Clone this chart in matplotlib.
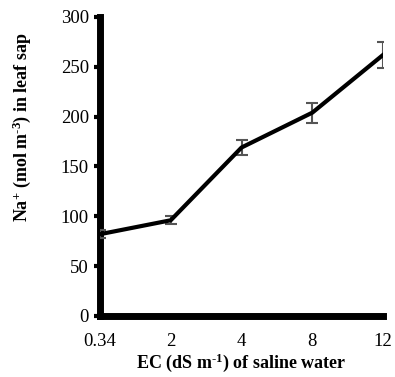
import numpy as np
import matplotlib.pyplot as plt

plt.rcParams['font.family'] = ['Liberation Serif', 'DejaVu Serif']
plt.rcParams['mathtext.fontset'] = 'custom'
plt.rcParams['mathtext.rm'] = 'Liberation Serif:bold'
plt.rcParams['mathtext.bf'] = 'Liberation Serif:bold'
plt.rcParams['mathtext.default'] = 'rm'

categories = ["0.34", "2", "4", "8", "12"]
na_sap = [82, 96, 169, 204, 262]
na_err = [4, 4, 8, 10, 13]

x = np.arange(len(categories))

fig = plt.figure(figsize=(3.95, 3.77), dpi=100)
ax = fig.add_axes([0.253, 0.162, 0.717, 0.793])
ax.errorbar(x, na_sap, yerr=na_err, fmt="none", ecolor="#555555",
            elinewidth=1.5, capsize=4, capthick=1.5, zorder=3)
ax.plot(x, na_sap, color="black", lw=3, zorder=4)

ax.set_xlim(0, 4)
ax.set_ylim(0, 300)
ax.set_yticks(range(0, 301, 50))
ax.set_xticks(x)
ax.set_xticklabels(categories)
ax.tick_params(axis="y", length=4, width=3, labelsize=13.5, pad=4)
ax.tick_params(axis="x", length=0, labelsize=13.5, pad=12)
for s in ["top", "right"]:
    ax.spines[s].set_visible(False)
for s in ["left", "bottom"]:
    ax.spines[s].set_linewidth(5)
ax.set_ylabel(r"Na$^{+}$ (mol m$^{\text{-}3}$) in leaf sap", fontsize=13, fontweight="bold")
ax.yaxis.set_label_coords(-0.235, 0.63)
ax.set_xlabel(r"EC (dS m$^{\text{-}1}$) of saline water", fontsize=13, fontweight="bold", labelpad=1)
fig.savefig("out.png", dpi=100)
